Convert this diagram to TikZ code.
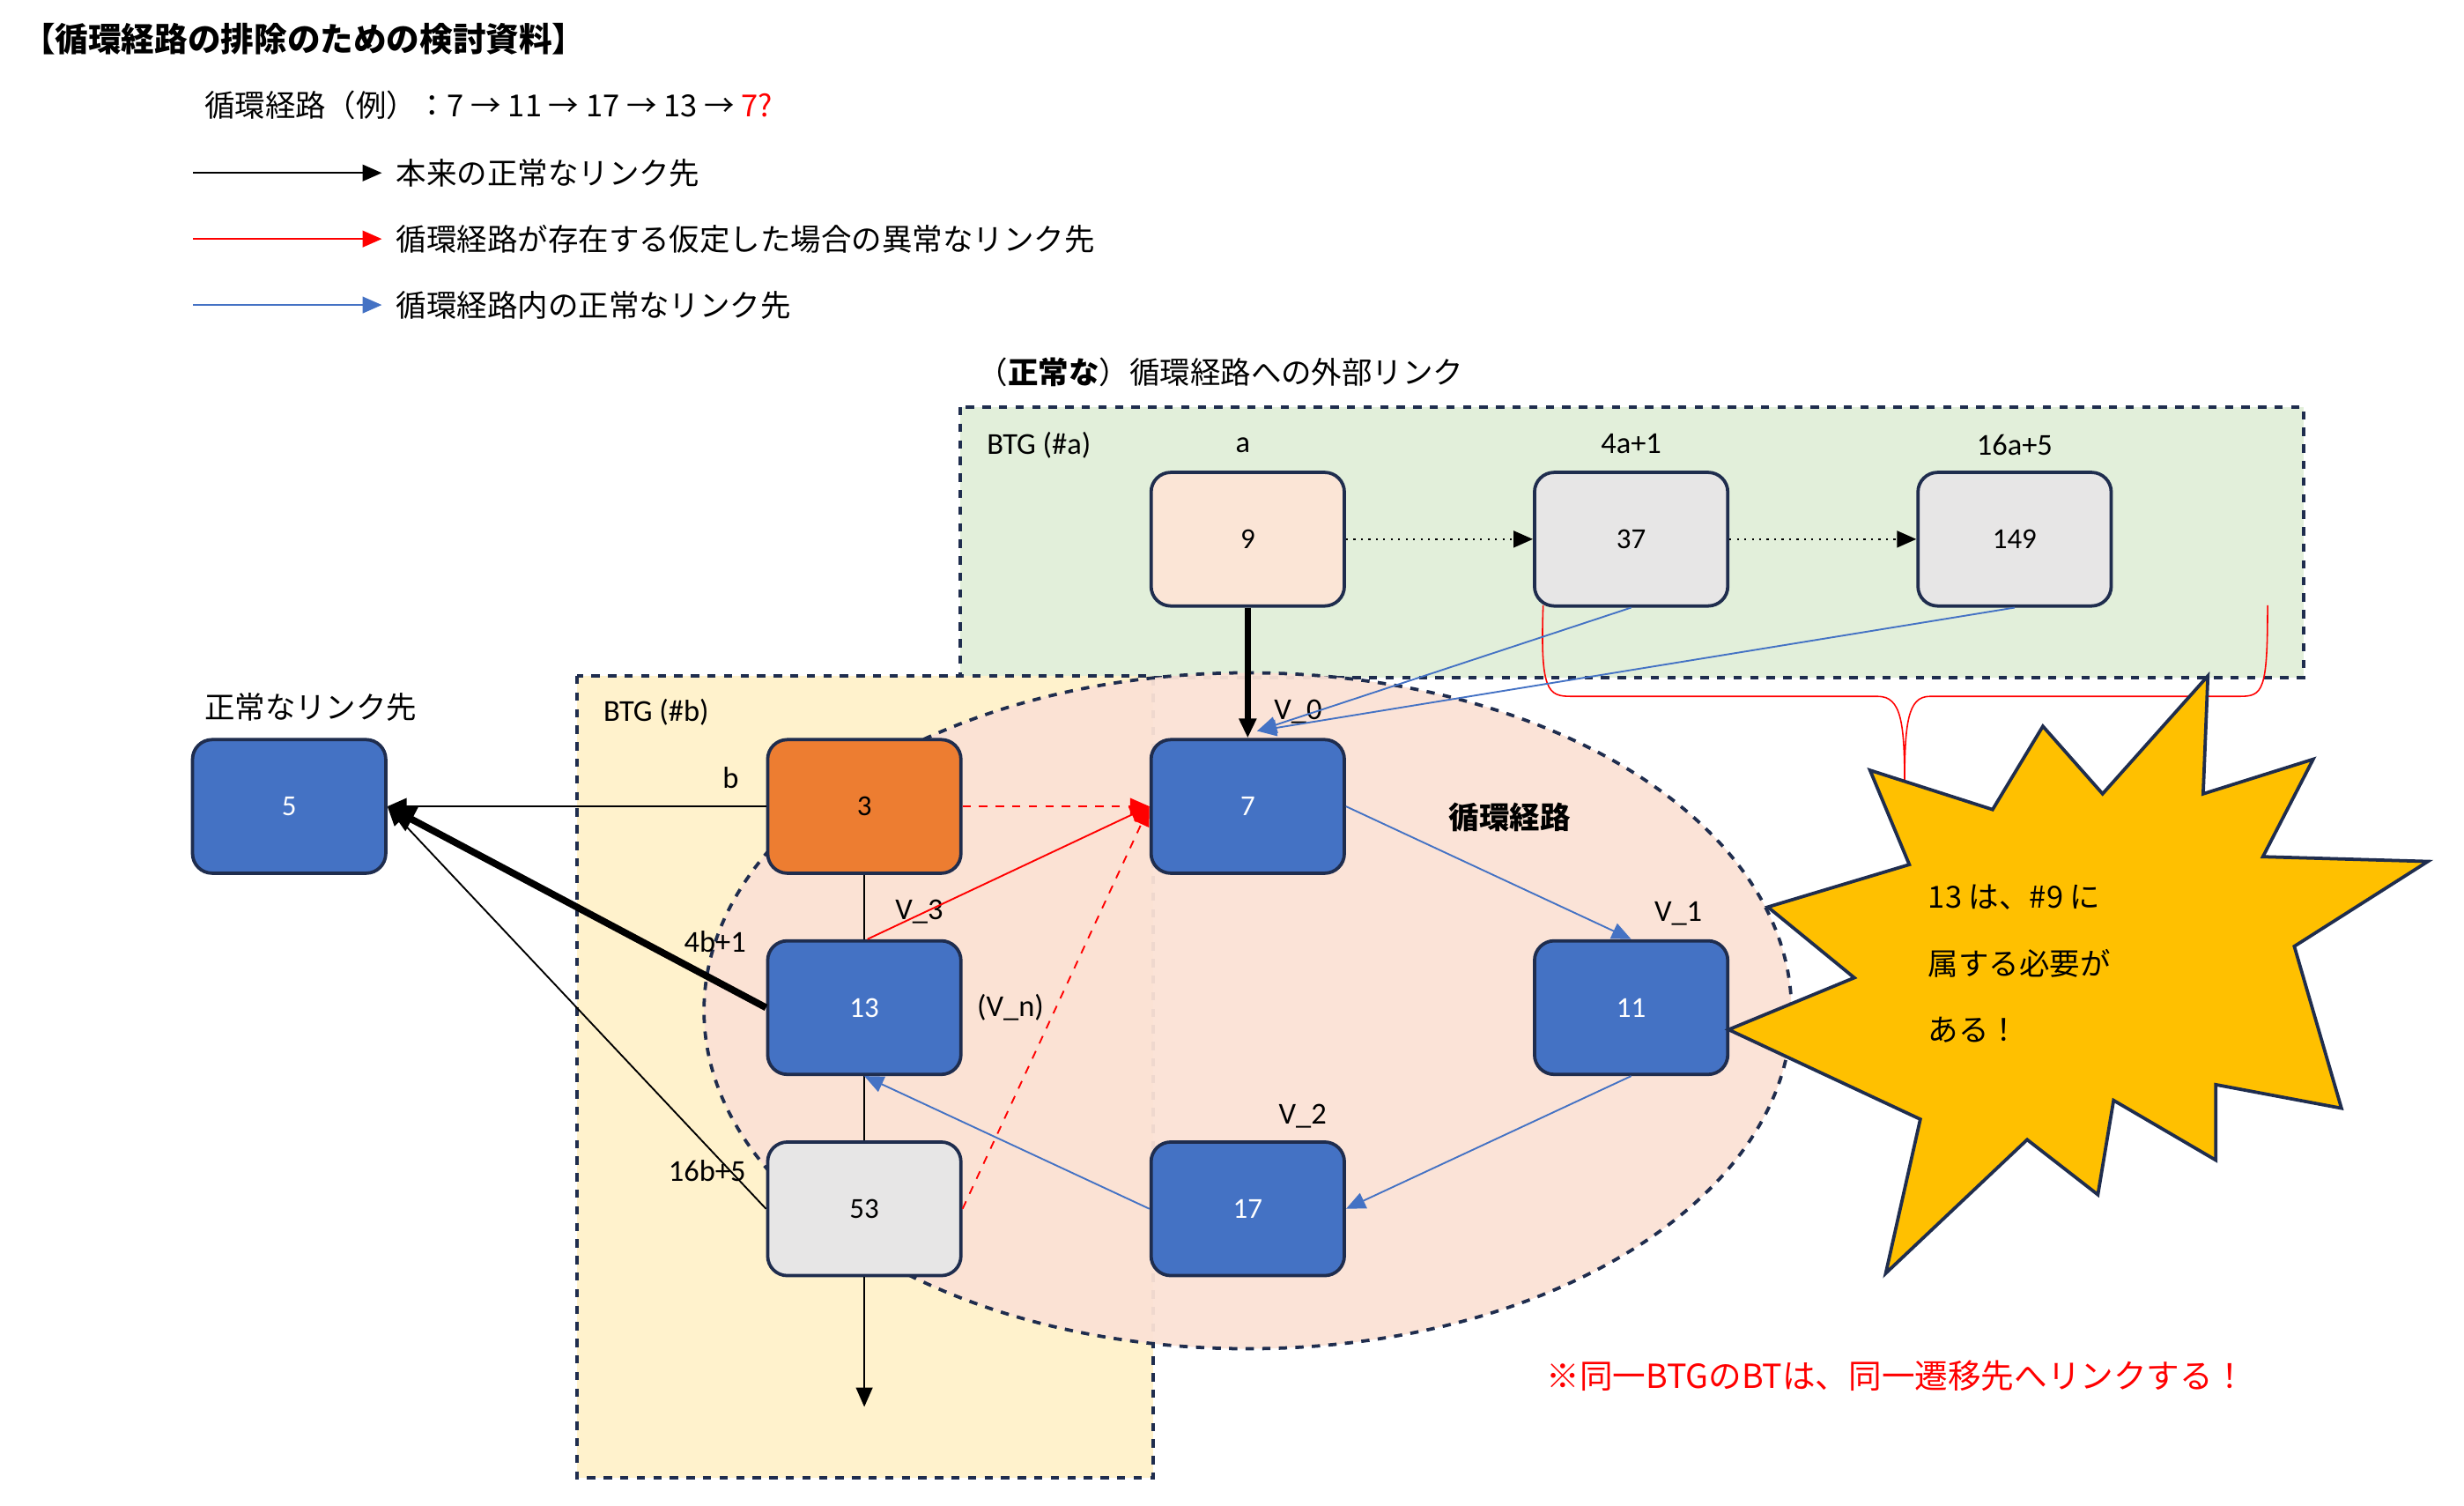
\documentclass[tikz,border=0pt]{standalone}
\usepackage{fontspec}
\setmainfont{Carlito}
\newfontfamily\jp{Noto Sans CJK JP}
\usetikzlibrary{arrows.meta}
\definecolor{bl}{HTML}{4472C4}
\definecolor{nv}{HTML}{1F2D4E}
\definecolor{gr}{HTML}{E2EFDA}
\definecolor{yl}{HTML}{FFF2CC}
\definecolor{el}{HTML}{FBE2D5}
\definecolor{pk}{HTML}{FBE5D6}
\definecolor{gy}{HTML}{E7E6E6}
\definecolor{og}{HTML}{ED7D31}
\definecolor{st}{HTML}{FFC000}
\definecolor{rd}{HTML}{FF0000}
\begin{document}
\begin{tikzpicture}[x=0.02cm,y=-0.02cm,font=\fontsize{11}{13}\selectfont,
  bx/.style={draw=nv,line width=1.2pt,rounded corners=0.25cm,minimum width=2.46cm,minimum height=1.7cm,font=\fontsize{10.5}{12}\selectfont},
  bb/.style={bx,fill=bl,text=white},
  lb/.style={inner sep=1pt},
  jt/.style={inner sep=1pt,anchor=west,font=\jp\fontsize{11}{13}\selectfont},
  tip/.style={-{Triangle[length=7pt,width=6pt]}},
  bla/.style={tip,draw=bl,line width=0.6pt},
  rda/.style={tip,draw=rd,line width=0.6pt}]
\useasboundingbox (0,0) rectangle (1568,958);
% containers
\draw[dashed,line width=1.3pt,draw=nv,fill=gr] (611,259) rectangle (1466,431);
\draw[dashed,line width=1.3pt,draw=nv,fill=yl] (367,430) rectangle (734,940);
\draw[dashed,line width=1.2pt,draw=nv,fill=el,fill opacity=0.95] (794,643) ellipse [x radius=346,y radius=215];
% texts
\node[jt,font=\jp\bfseries\fontsize{12}{14}\selectfont] (title) at (12,25) {【循環経路の排除のための検討資料】};
\node[jt] (ex) at (128,67) {循環経路（例）：7 → 11 → 17 → 13 → \textcolor{rd}{7?}};
\coordinate (l1a) at (123,110); \coordinate (l1b) at (243,110);
\coordinate (l2a) at (123,152); \coordinate (l2b) at (243,152);
\coordinate (l3a) at (123,194); \coordinate (l3b) at (243,194);
\draw[tip,line width=0.6pt] (l1a) -- (l1b);
\draw[rda] (l2a) -- (l2b);
\draw[bla] (l3a) -- (l3b);
\node[jt] (t1) at (250,110) {本来の正常なリンク先};
\node[jt] (t2) at (250,152) {循環経路が存在する仮定した場合の異常なリンク先};
\node[jt] (t3) at (250,194) {循環経路内の正常なリンク先};
\node[jt] (ext) at (620,237) {（\textbf{正常な}）循環経路への外部リンク};
\node[jt] (norm) at (128,450) {正常なリンク先};
\node[jt,font=\jp\bfseries\fontsize{11}{13}\selectfont] (loop) at (920,520) {循環経路};
\node[lb,anchor=west] (btga) at (626,283) {BTG (\#a)};
\node[lb] (la) at (791,283) {a};
\node[lb] (l4a) at (1038,282) {4a+1};
\node[lb] (l16a) at (1282,283) {16a+5};
\node[lb,anchor=west] (btgb) at (382,453) {BTG (\#b)};
\node[lb] (lbb) at (465,495) {b};
\node[lb] (l4b) at (455,599) {4b+1};
\node[lb] (l16b) at (450,745) {16b+5};
\node[lb] (v0) at (826,453) {V\_0};
\node[lb] (v3) at (585,580) {V\_3};
\node[lb] (vn) at (643,641) {(V\_n)};
\node[lb] (v1) at (1068,581) {V\_1};
\node[lb] (v2) at (829,710) {V\_2};
% nodes
\node[bx,fill=pk] (n9) at (794,343) {9};
\node[bx,fill=gy] (n37) at (1038,343) {37};
\node[bx,fill=gy] (n149) at (1282,343) {149};
\node[bb] (n5) at (184,513) {5};
\node[bx,fill=og] (n3) at (550,513) {3};
\node[bb] (n7) at (794,513) {7};
\node[bb] (n13) at (550,641) {13};
\node[bb] (n11) at (1038,641) {11};
\node[bb] (n17) at (794,769) {17};
\node[bx,fill=gy] (n53) at (550,769) {53};
\coordinate (v0p) at (800,465);
\coordinate (down) at (550,895);
% brace
\draw[rd,line width=0.5pt] (982,385) .. controls (980,440) and (985,443) .. (1000,443) -- (1195,443) .. controls (1210,443) and (1212,460) .. (1212,500) .. controls (1212,460) and (1214,443) .. (1228,443) -- (1425,443) .. controls (1440,443) and (1443,440) .. (1443,385);
% star
\draw[draw=nv,line width=1.2pt,fill=st] (1100,655) -- (1180,622) -- (1125,577) -- (1215,550) -- (1190,490) -- (1268,515) -- (1300,462) -- (1338,505) -- (1405,430) -- (1402,505) -- (1472,483) -- (1440,545) -- (1545,548) -- (1460,602) -- (1490,705) -- (1410,690) -- (1410,738) -- (1345,700) -- (1335,760) -- (1290,725) -- (1200,810) -- (1222,712) -- cycle;
\node[jt] (s1) at (1225,571) {13 は、\#9 に};
\node[jt] (s2) at (1225,613) {属する必要が};
\node[jt] (s3) at (1225,655) {ある！};
\node[jt,text=rd,font=\jp\fontsize{12}{14}\selectfont] (note) at (982,875) {※同一BTGのBTは、同一遷移先へリンクする！};
% edges
\draw[tip,line width=2.2pt] (n9) -- (n7);
\draw[tip,dotted,line width=0.7pt] (n9) -- (n37);
\draw[tip,dotted,line width=0.7pt] (n37) -- (n149);
\draw[bla] (n37.south) -- (v0p);
\draw[bla] (n149.south) -- (v0p);
\draw[tip,line width=0.6pt] (n3) -- (n5);
\draw[-{Triangle[length=10pt,width=9pt]},line width=2.5pt] (n13.west) -- (n5.east);
\draw[tip,line width=0.6pt] (n53.west) -- (n5.east);
\draw[rda,dashed] (n3) -- (n7);
\draw[rda] (n13.north) ++(2,0) -- (n7.west);
\draw[rda,dashed] (n53.east) -- (n7.west);
\draw[line width=0.6pt] (n3) -- (n13);
\draw[line width=0.6pt] (n13) -- (n53);
\draw[tip,line width=0.6pt] (n53) -- (down);
\draw[bla] (n7.east) -- (n11.north);
\draw[bla] (n11.south) -- (n17.east);
\draw[bla] (n17.west) -- (n13.south);
\end{tikzpicture}
\end{document}
